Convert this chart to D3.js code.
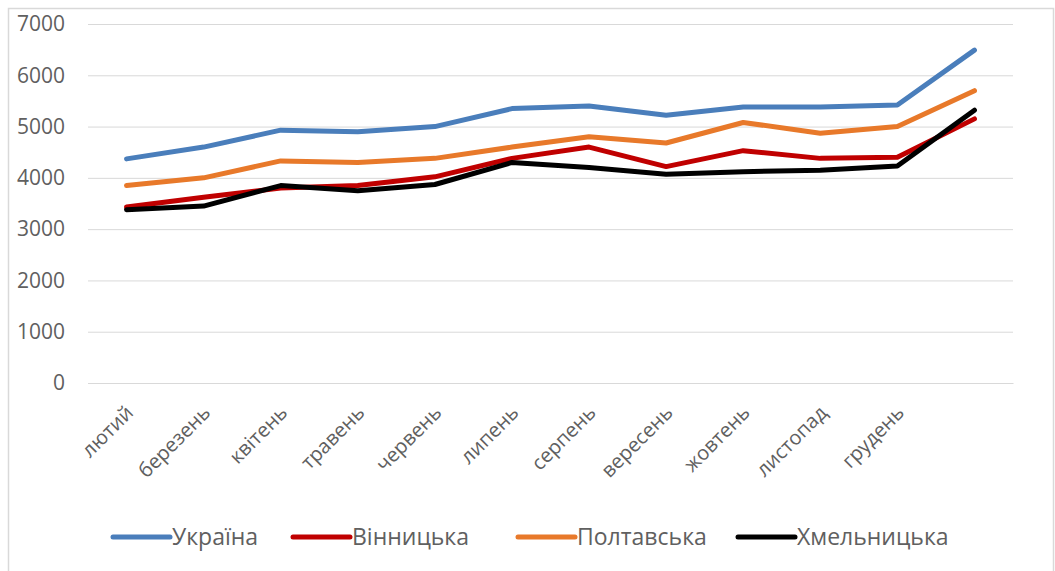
<!DOCTYPE html>
<html><head><meta charset="utf-8">
<script src="https://cdn.jsdelivr.net/npm/d3@7"></script>
<style>body{margin:0;background:#fff}svg{display:block}</style>
</head><body>
<svg id="c" width="1055" height="571"></svg>
<script>
const categories = ["лютий","березень","квітень","травень","червень","липень","серпень","вересень","жовтень","листопад","грудень",""];
const ukraine    = [4370,4600,4930,4900,5000,5350,5400,5220,5380,5380,5420,6490];
const vinnytska  = [3430,3620,3800,3850,4020,4380,4600,4220,4530,4380,4400,5150];
const poltavska  = [3850,4000,4330,4300,4380,4600,4800,4680,5080,4870,5000,5700];
const khmelnytska= [3380,3450,3850,3750,3870,4300,4200,4070,4120,4150,4230,5320];
const seriesNames = ["Україна","Вінницька","Полтавська","Хмельницька"];
const yTicks = [0,1000,2000,3000,4000,5000,6000,7000];

const colors = ["#4a7ebb","#c00000","#e8792a","#000000"];
const series = [ukraine, vinnytska, poltavska, khmelnytska];

const svg = d3.select("#c");
const font = "'Open Sans', 'Noto Sans', sans-serif";
// outer frame
svg.append("path").attr("d","M8.5,571 V8.5 H1053.5 V571").attr("fill","none").attr("stroke","#d9d9d9").attr("stroke-width",1.5);

const x = d3.scaleBand().domain(d3.range(categories.length)).range([88,1013]);
const y = d3.scaleLinear().domain([0,7000]).range([383,24]);

const ga = svg.append("g").attr("transform","translate(88,0)")
  .call(d3.axisLeft(y).tickValues(yTicks).tickSize(-925).tickPadding(23).tickFormat(d3.format("d")));
ga.select(".domain").remove();
ga.selectAll("line").attr("stroke","#d9d9d9").attr("stroke-width",1);
ga.selectAll("text").attr("fill","#606060").style("font-family",font).style("font-size","21px");

const gx = svg.append("g").attr("transform","translate(0,383)")
  .call(d3.axisBottom(x).tickSize(0).tickFormat(i=>categories[i]));
gx.select(".domain").attr("stroke","#d9d9d9");
gx.selectAll("text").attr("fill","#606060").style("font-family",font).style("font-size","20px")
  .attr("text-anchor","end").attr("dy",null).attr("y",0)
  .attr("transform","translate(8,31) rotate(-45)");

const line = d3.line().x((d,i)=>x(i)+x.bandwidth()/2).y(d=>y(d));
series.forEach((s,k)=>{
  svg.append("path").datum(s).attr("d",line).attr("fill","none")
    .attr("stroke",colors[k]).attr("stroke-width",5).attr("stroke-linejoin","round").attr("stroke-linecap","round");
});

// legend
const legX = [113,293,518,738];
const lg = svg.append("g");
seriesNames.forEach((n,k)=>{
  lg.append("line").attr("x1",legX[k]).attr("x2",legX[k]+57).attr("y1",537).attr("y2",537)
    .attr("stroke",colors[k]).attr("stroke-width",5).attr("stroke-linecap","round");
  lg.append("text").attr("x",legX[k]+59).attr("y",537).attr("dy","0.35em").text(n)
    .attr("fill","#606060").style("font-family",font).style("font-size","23px");
});
</script>
</body></html>
